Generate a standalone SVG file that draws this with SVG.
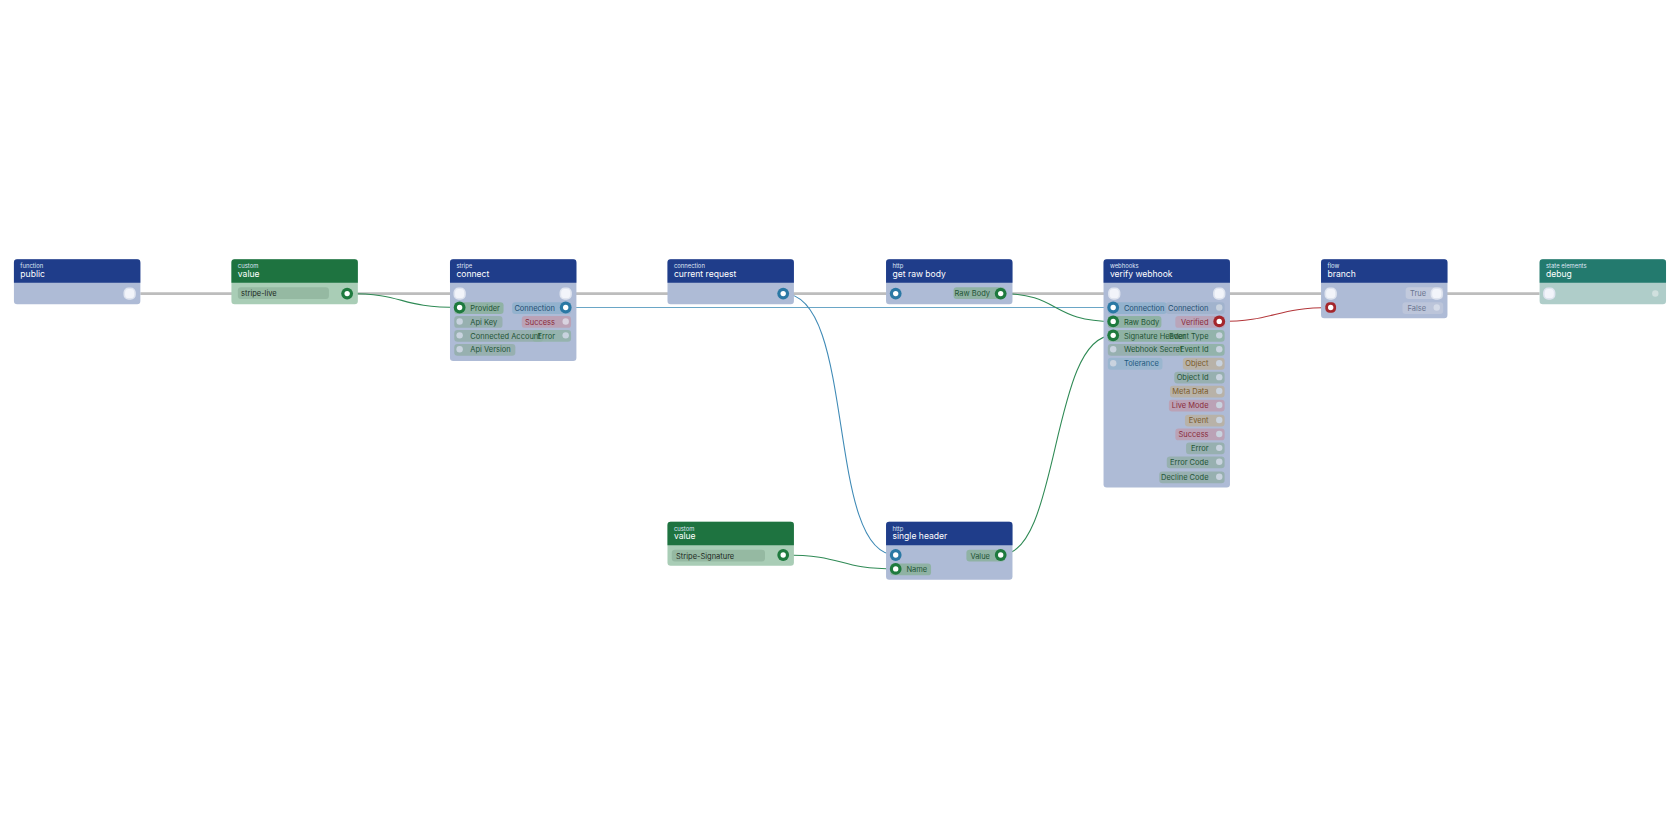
<svg xmlns="http://www.w3.org/2000/svg" width="1680" height="840" viewBox="0 0 1680 840">
<defs><style>
text{font-family:"Inter","Noto Sans",sans-serif}
.cat{font-size:5.5px;fill:#dfe6f5}
.tt{font-size:8px;fill:#fff}
.hb{fill:#1f3d8a}.hg{fill:#1e7340}.ht{fill:#237a6e}
.bb{fill:#aebbd6}.bg{fill:#a9cdb6}.bt{fill:#afcdc9}
.lb{font-size:7px}
.ex{fill:#f2f4fa;stroke:#dfe4ef;stroke-width:1.5}
.w{fill:#fff}
.c{fill:none;stroke-width:1}
</style></defs>
<rect width="1680" height="840" fill="#fff"/>
<g transform="scale(1.0714)">
<g id="connectors">
<line x1="131" y1="274" x2="1437" y2="274" stroke="#bdbdbd" stroke-width="2.5"/>
<path class="c" stroke="#2f8a55" d="M324,274 C380,274 370,287 429,287"/>
<path class="c" stroke="#6aa6c6" d="M528,287 L1039,287"/>
<path class="c" stroke="#3f8ab6" d="M731,274 C800,274 770,518 836,518"/>
<path class="c" stroke="#2f8a55" d="M934,274 C990,274 980,300 1039,300"/>
<path class="c" stroke="#2f8a55" d="M731,518 C790,518 780,531 836,531"/>
<path class="c" stroke="#2f8a55" d="M934,518 C990,518 980,313 1039,313"/>
<path class="c" stroke="#b3363a" d="M1138,300 C1190,300 1190,287 1242,287"/>
</g>
<g id="public">
<rect x="13" y="242" width="118" height="42" rx="3" class="bb"/>
<path d="M13,264 V245 a3,3 0 0 1 3,-3 H128 a3,3 0 0 1 3,3 V264Z" class="hb"/>
<text x="19" y="250.5" class="cat">function</text><text x="19" y="258.5" class="tt">public</text>
<rect x="116" y="269" width="10" height="10" rx="4" class="ex"/>
</g>
<g id="value1">
<rect x="216" y="242" width="118" height="42" rx="3" class="bg"/>
<path d="M216,264 V245 a3,3 0 0 1 3,-3 H331 a3,3 0 0 1 3,3 V264Z" class="hg"/>
<text x="222" y="250.5" class="cat">custom</text><text x="222" y="258.5" class="tt">value</text>
<rect x="222" y="268" width="85" height="11" rx="3" fill="#95b9a2"/>
<text x="225" y="276.5" class="lb" fill="#1d2a22">stripe-live</text>
<circle cx="324" cy="274" r="5.5" fill="#1e7a3e"/><circle cx="324" cy="274" r="2.5" class="w"/>
</g>
<g id="connect">
<rect x="420" y="242" width="118" height="95" rx="3" class="bb"/>
<path d="M420,264 V245 a3,3 0 0 1 3,-3 H535 a3,3 0 0 1 3,3 V264Z" class="hb"/>
<text x="426" y="250.5" class="cat">stripe</text><text x="426" y="258.5" class="tt">connect</text>
<rect x="424" y="269" width="10" height="10" rx="4" class="ex"/>
<rect x="523" y="269" width="10" height="10" rx="4" class="ex"/>
<rect x="424" y="282" width="46" height="11" rx="3" fill="#8fb2a4"/>
<rect x="424" y="295" width="45" height="11" rx="3" fill="#97b0b0"/>
<rect x="424" y="308" width="83" height="11" rx="3" fill="#97b0b0"/>
<rect x="424" y="321" width="57" height="11" rx="3" fill="#97b0b0"/>
<rect x="478" y="282" width="55" height="11" rx="3" fill="#93b2ce"/>
<rect x="487" y="295" width="46" height="11" rx="3" fill="#bba2b6"/>
<rect x="497" y="308" width="36" height="11" rx="3" fill="#8fb2a4" opacity="0.8"/>
<circle cx="429" cy="287" r="5.5" fill="#1e7a3e"/><circle cx="429" cy="287" r="2.5" class="w"/>
<circle cx="429" cy="300" r="3" fill="#c9d3df"/><circle cx="429" cy="313" r="3" fill="#c9d3df"/><circle cx="429" cy="326" r="3" fill="#c9d3df"/>
<circle cx="528" cy="287" r="5.5" fill="#2a78a4"/><circle cx="528" cy="287" r="2.5" class="w"/>
<circle cx="528" cy="300" r="3" fill="#d9d3e0"/><circle cx="528" cy="313" r="3" fill="#c9d3df"/>
<g class="lb">
<text x="439" y="290" fill="#1f5436">Provider</text>
<text x="439" y="303" fill="#1f5436">Api Key</text>
<text x="439" y="316" fill="#1f5436">Connected Account</text>
<text x="439" y="329" fill="#1f5436">Api Version</text>
<text x="518" y="290" fill="#1e4e72" text-anchor="end">Connection</text>
<text x="518" y="303" fill="#8a2b3b" text-anchor="end">Success</text>
<text x="518" y="316" fill="#1f5436" text-anchor="end">Error</text>
</g>
</g>
<g id="current-request">
<rect x="623" y="242" width="118" height="42" rx="3" class="bb"/>
<path d="M623,264 V245 a3,3 0 0 1 3,-3 H738 a3,3 0 0 1 3,3 V264Z" class="hb"/>
<text x="629" y="250.5" class="cat">connection</text><text x="629" y="258.5" class="tt">current request</text>
<circle cx="731" cy="274" r="5.5" fill="#2a78a4"/><circle cx="731" cy="274" r="2.5" class="w"/>
</g>
<g id="get-raw-body">
<rect x="827" y="242" width="118" height="42" rx="3" class="bb"/>
<path d="M827,264 V245 a3,3 0 0 1 3,-3 H942 a3,3 0 0 1 3,3 V264Z" class="hb"/>
<text x="833" y="250.5" class="cat">http</text><text x="833" y="258.5" class="tt">get raw body</text>
<circle cx="836" cy="274" r="5.5" fill="#2a78a4"/><circle cx="836" cy="274" r="2.5" class="w"/>
<rect x="890" y="268" width="48" height="11" rx="3" fill="#8fb2a4"/><text x="924" y="276.5" class="lb" fill="#1f5436" text-anchor="end">Raw Body</text>
<circle cx="934" cy="274" r="5.5" fill="#1e7a3e"/><circle cx="934" cy="274" r="2.5" class="w"/>
</g>
<g id="verify-webhook">
<rect x="1030" y="242" width="118" height="213" rx="3" class="bb"/>
<path d="M1030,264 V245 a3,3 0 0 1 3,-3 H1145 a3,3 0 0 1 3,3 V264Z" class="hb"/>
<text x="1036" y="250.5" class="cat">webhooks</text><text x="1036" y="258.5" class="tt">verify webhook</text>
<rect x="1035" y="269" width="10" height="10" rx="4" class="ex"/>
<rect x="1133" y="269" width="10" height="10" rx="4" class="ex"/>
<rect x="1034" y="282" width="55" height="11" rx="3" fill="#93b2ce"/>
<rect x="1034" y="295" width="50" height="11" rx="3" fill="#8fb2a4"/>
<rect x="1034" y="308" width="80" height="11" rx="3" fill="#8fb2a4"/>
<rect x="1034" y="321" width="69" height="11" rx="3" fill="#97b0b0"/>
<rect x="1034" y="334" width="51" height="11" rx="3" fill="#9ab6cf"/>
<g opacity="0.85">
<rect x="1088" y="282" width="55" height="11" rx="3" fill="#9fb2cc"/>
<rect x="1097" y="295" width="46" height="11" rx="3" fill="#bba2b6"/>
<rect x="1089" y="308" width="54" height="11" rx="3" fill="#8fb2a4"/>
<rect x="1100" y="321" width="43" height="11" rx="3" fill="#8fb2a4"/>
</g>
<rect x="1104" y="334" width="39" height="11" rx="3" fill="#b8b2a8"/>
<rect x="1096" y="347" width="47" height="11" rx="3" fill="#97b0b0"/>
<rect x="1092" y="360" width="51" height="11" rx="3" fill="#b8b2a8"/>
<rect x="1091" y="373" width="52" height="11" rx="3" fill="#bba2b6"/>
<rect x="1106" y="387" width="37" height="11" rx="3" fill="#b8b2a8"/>
<rect x="1097" y="400" width="46" height="11" rx="3" fill="#bba2b6"/>
<rect x="1107" y="413" width="36" height="11" rx="3" fill="#97b0b0"/>
<rect x="1089" y="426" width="54" height="11" rx="3" fill="#97b0b0"/>
<rect x="1082" y="440" width="61" height="11" rx="3" fill="#97b0b0"/>
<circle cx="1039" cy="287" r="5.5" fill="#2a78a4"/><circle cx="1039" cy="287" r="2.5" class="w"/>
<circle cx="1039" cy="300" r="5.5" fill="#1e7a3e"/><circle cx="1039" cy="300" r="2.5" class="w"/>
<circle cx="1039" cy="313" r="5.5" fill="#1e7a3e"/><circle cx="1039" cy="313" r="2.5" class="w"/>
<circle cx="1039" cy="326" r="3" fill="#c9d3df"/><circle cx="1039" cy="339" r="3" fill="#c9d3df"/>
<circle cx="1138" cy="300" r="5.5" fill="#a4262c"/><circle cx="1138" cy="300" r="2.5" class="w"/>
<g fill="#c9d3df"><circle cx="1138" cy="287" r="3"/><circle cx="1138" cy="313" r="3"/><circle cx="1138" cy="326" r="3"/><circle cx="1138" cy="339" r="3"/><circle cx="1138" cy="352" r="3"/><circle cx="1138" cy="365" r="3"/><circle cx="1138" cy="378" r="3"/><circle cx="1138" cy="392" r="3"/><circle cx="1138" cy="405" r="3"/><circle cx="1138" cy="418" r="3"/><circle cx="1138" cy="431" r="3"/><circle cx="1138" cy="445" r="3"/></g>
<g class="lb">
<text x="1049" y="290" fill="#1e4e72">Connection</text>
<text x="1049" y="303" fill="#1f5436">Raw Body</text>
<text x="1049" y="316" fill="#1f5436">Signature Header</text>
<text x="1049" y="329" fill="#1f5436">Webhook Secret</text>
<text x="1049" y="342" fill="#1e5a80">Tolerance</text>
</g>
<g class="lb" text-anchor="end">
<text x="1128" y="290" fill="#1e4e72">Connection</text>
<text x="1128" y="303" fill="#8a2b3b">Verified</text>
<text x="1128" y="316" fill="#1f5436">Event Type</text>
<text x="1128" y="329" fill="#1f5436">Event Id</text>
<text x="1128" y="342" fill="#7a5a2a">Object</text>
<text x="1128" y="355" fill="#1f5436">Object Id</text>
<text x="1128" y="368" fill="#7a5a2a">Meta Data</text>
<text x="1128" y="381" fill="#8a2b3b">Live Mode</text>
<text x="1128" y="395" fill="#7a5a2a">Event</text>
<text x="1128" y="408" fill="#8a2b3b">Success</text>
<text x="1128" y="421" fill="#1f5436">Error</text>
<text x="1128" y="434" fill="#1f5436">Error Code</text>
<text x="1128" y="448" fill="#1f5436">Decline Code</text>
</g>
</g>
<g id="branch">
<rect x="1233" y="242" width="118" height="55" rx="3" class="bb"/>
<path d="M1233,264 V245 a3,3 0 0 1 3,-3 H1348 a3,3 0 0 1 3,3 V264Z" class="hb"/>
<text x="1239" y="250.5" class="cat">flow</text><text x="1239" y="258.5" class="tt">branch</text>
<rect x="1237" y="269" width="10" height="10" rx="4" class="ex"/>
<rect x="1237" y="282" width="10" height="10" rx="4" fill="#a4262c"/><circle cx="1242" cy="287" r="2.5" class="w"/>
<rect x="1312" y="268" width="35" height="11" rx="3" fill="#c2cadd"/><text x="1331" y="276.5" class="lb" fill="#6b7590" text-anchor="end">True</text>
<rect x="1336" y="269" width="10" height="10" rx="4" class="ex"/>
<rect x="1309" y="282" width="38" height="11" rx="3" fill="#bcc5da"/><text x="1331" y="290" class="lb" fill="#6b7590" text-anchor="end">False</text>
<circle cx="1341" cy="287" r="3" fill="#d5dbe8"/>
</g>
<g id="debug">
<rect x="1437" y="242" width="118" height="42" rx="3" class="bt"/>
<path d="M1437,264 V245 a3,3 0 0 1 3,-3 H1552 a3,3 0 0 1 3,3 V264Z" class="ht"/>
<text x="1443" y="250.5" class="cat">state elements</text><text x="1443" y="258.5" class="tt">debug</text>
<rect x="1441" y="269" width="10" height="10" rx="4" class="ex"/>
<circle cx="1545" cy="274" r="3" fill="#d0e0de"/>
</g>
<g id="value2">
<rect x="623" y="487" width="118" height="41" rx="3" class="bg"/>
<path d="M623,509 V490 a3,3 0 0 1 3,-3 H738 a3,3 0 0 1 3,3 V509Z" class="hg"/>
<text x="629" y="495.5" class="cat">custom</text><text x="629" y="503.5" class="tt">value</text>
<rect x="627" y="513" width="87" height="11" rx="3" fill="#95b9a2"/>
<text x="631" y="521.5" class="lb" fill="#1d2a22">Stripe-Signature</text>
<circle cx="731" cy="518" r="5.5" fill="#1e7a3e"/><circle cx="731" cy="518" r="2.5" class="w"/>
</g>
<g id="single-header">
<rect x="827" y="487" width="118" height="54" rx="3" class="bb"/>
<path d="M827,509 V490 a3,3 0 0 1 3,-3 H942 a3,3 0 0 1 3,3 V509Z" class="hb"/>
<text x="833" y="495.5" class="cat">http</text><text x="833" y="503.5" class="tt">single header</text>
<circle cx="836" cy="518" r="5.5" fill="#2a78a4"/><circle cx="836" cy="518" r="2.5" class="w"/>
<rect x="902" y="513" width="36" height="11" rx="3" fill="#8fb2a4"/><text x="924" y="521.5" class="lb" fill="#1f5436" text-anchor="end">Value</text>
<circle cx="934" cy="518" r="5.5" fill="#1e7a3e"/><circle cx="934" cy="518" r="2.5" class="w"/>
<rect x="831" y="526" width="38" height="11" rx="3" fill="#8fb2a4"/><text x="846" y="534" class="lb" fill="#1f5436">Name</text>
<circle cx="836" cy="531" r="5.5" fill="#1e7a3e"/><circle cx="836" cy="531" r="2.5" class="w"/>
</g>
</g>
</svg>
